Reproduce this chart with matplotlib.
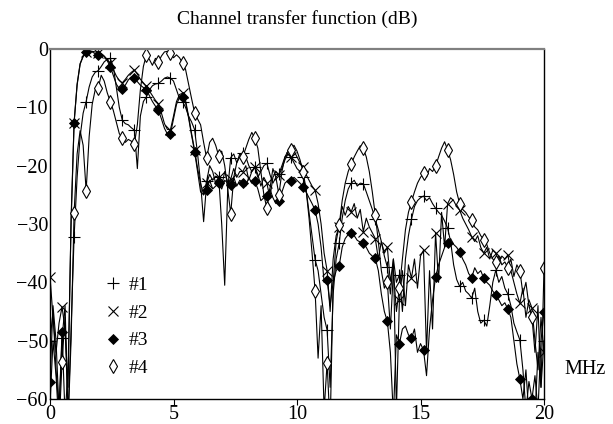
import numpy as np
import matplotlib
matplotlib.use("Agg")
import matplotlib.pyplot as plt
from matplotlib.lines import Line2D

plt.rcParams['font.family'] = ['Liberation Serif', 'DejaVu Serif']

# frequency grid (MHz): 165 samples over 0-20 MHz, markers every 4th sample
freq = np.linspace(0, 20, 165)

s1 = [-50, -45, -55, -62,  -49.6, -44, -63, -48,  -32.2, -22, -15, -11,  -9.0, -6.5, -4.8, -4.0,
      -3.7, -3.0, -2.2, -1.8,  -1.6, -3.0, -6.5, -10.0,  -12.2, -12.8, -13.0, -13.5,  -13.9, -20.5, -11.5, -9.0,
      -8.2, -7.0, -6.3, -6.0,  -5.9, -5.5, -5.0, -4.8,  -5.0, -5.5, -7.0, -8.5,  -9.0, -10.0, -11.5, -12.5,
      -13.8, -18.0, -23.0, -25.0,  -22.7, -20.0, -21.0, -23.0,  -21.9, -30.0, -40.5, -24.0,  -18.6, -18.0, -19.5, -18.5,
      -17.8, -18.5, -20.0, -21.0,  -20.2, -22.0, -21.0, -20.0,  -19.6, -21.5, -23.0, -22.0,  -21.4, -20.0, -18.5, -18.0,
      -18.5, -19.5, -20.5, -21.0,  -21.9, -24.0, -28.0, -32.0,  -36.1, -38.0, -42.0, -46.0,  -48.2, -58.0, -42.0, -36.0,
      -33.3, -29.0, -26.0, -24.0,  -23.0, -22.5, -23.5, -23.0,  -23.1, -24.5, -26.0, -27.5,  -29.2, -31.0, -33.0, -35.5,
      -37.4, -42.0, -36.0, -40.0,  -38.7, -45.0, -36.0, -32.0,  -29.2, -27.0, -26.0, -25.5,  -25.2, -26.0, -25.5, -26.5,
      -27.3, -28.0, -28.5, -29.5,  -30.7, -33.0, -37.0, -39.5,  -40.7, -40.0, -41.5, -42.0,  -42.7, -41.0, -45.0, -47.0,
      -46.5, -47.5, -44.0, -40.0,  -37.9, -40.0, -39.0, -41.0,  -42.0, -44.0, -47.0, -48.5,  -49.9, -55.0, -62.0, -57.0,
      -60.0, -63.0, -52.0, -58.0,  -50.0]

s2 = [-39.0, -46.0, -52.0, -47.0,  -44.2, -48.0, -58.0, -29.0,  -12.6, -6.2, -2.6, -1.3,  -0.5, -0.3, -0.4, -0.5,
      -0.6, -0.8, -1.2, -1.8,  -2.4, -3.5, -4.6, -5.4,  -5.8, -5.2, -4.5, -4.0,  -3.6, -4.3, -5.2, -5.8,
      -6.4, -7.2, -8.0, -8.8,  -9.4, -11.0, -12.8, -13.8,  -13.8, -11.5, -9.0, -7.8,  -7.6, -8.8, -11.5, -14.5,
      -17.3, -20.5, -23.0, -29.6,  -23.0, -21.5, -22.5, -21.8,  -22.0, -23.5, -21.0, -22.8,  -22.3, -20.5, -22.0, -21.0,
      -21.0, -20.0, -22.5, -21.0,  -20.2, -21.5, -23.5, -22.0,  -23.0, -25.5, -22.0, -21.0,  -21.6, -20.5, -19.0, -18.0,
      -18.5, -17.5, -18.5, -19.5,  -20.2, -21.5, -22.5, -23.5,  -24.2, -26.5, -30.0, -35.0,  -38.0, -45.0, -36.0, -32.0,
      -30.5, -27.0, -28.5, -27.0,  -27.9, -26.5, -29.0, -27.5,  -31.3, -29.0, -30.5, -31.5,  -32.5, -36.0, -33.0, -35.0,
      -34.0, -40.0, -36.0, -62.0,  -43.0, -38.0, -44.0, -37.0,  -39.3, -36.0, -41.0, -35.5,  -34.5, -52.0, -38.0, -48.0,
      -31.5, -40.0, -28.0, -34.0,  -26.5, -25.5, -26.0, -27.0,  -27.6, -29.0, -30.0, -31.0,  -32.2, -33.0, -32.0, -34.0,
      -35.0, -34.0, -36.0, -34.5,  -35.0, -36.5, -35.5, -36.0,  -35.3, -38.0, -40.0, -42.0,  -43.6, -41.0, -46.0, -43.0,
      -44.4, -50.0, -55.0, -46.0,  -52.0]

s3 = [-57.0, -44.0, -50.0, -62.0,  -48.5, -63.0, -55.0, -30.0,  -12.6, -6.0, -2.5, -1.2,  -0.5, -0.3, -0.5, -0.8,
      -1.0, -0.9, -1.3, -2.0,  -3.0, -4.5, -6.0, -6.8,  -6.9, -6.2, -5.3, -4.8,  -4.9, -5.6, -6.2, -6.6,
      -7.0, -8.0, -9.0, -9.8,  -10.5, -12.0, -13.6, -14.6,  -14.5, -12.0, -9.5, -8.3,  -8.2, -9.2, -11.8, -14.8,
      -17.6, -21.0, -24.5, -25.0,  -24.2, -22.5, -24.0, -23.5,  -23.0, -24.0, -22.5, -23.0,  -23.4, -22.0, -23.5, -22.5,
      -22.9, -23.5, -22.0, -23.0,  -22.7, -24.0, -26.0, -25.5,  -25.2, -24.0, -25.5, -26.5,  -26.0, -24.5, -23.0, -22.5,
      -22.7, -22.0, -22.5, -23.0,  -23.6, -24.5, -25.5, -26.5,  -27.6, -30.0, -34.0, -40.0,  -39.6, -44.0, -40.0, -38.0,
      -37.2, -34.0, -32.5, -31.8,  -31.6, -32.0, -32.8, -33.1,  -33.3, -34.0, -35.0, -35.5,  -35.9, -38.0, -42.0, -45.0,
      -46.7, -52.0, -63.0, -49.0,  -50.5, -48.0, -47.5, -49.0,  -49.6, -48.0, -52.0, -50.5,  -51.6, -56.0, -48.0, -43.0,
      -39.1, -37.0, -35.5, -34.0,  -33.3, -32.5, -33.5, -34.0,  -34.8, -36.0, -37.0, -38.5,  -39.2, -37.5, -38.5, -38.0,
      -39.3, -40.0, -40.5, -41.5,  -42.2, -43.0, -44.0, -43.5,  -44.6, -46.0, -50.0, -54.0,  -56.6, -60.0, -55.0, -63.0,
      -60.0, -56.0, -62.0, -50.0,  -45.0]

s4 = [-61.0, -50.0, -56.0, -65.0,  -53.6, -46.0, -64.0, -50.0,  -28.1, -18.0, -14.0, -16.5,  -24.3, -15.0, -9.5, -7.0,
      -6.7, -4.5, -5.5, -7.5,  -9.0, -10.5, -12.5, -14.5,  -15.3, -16.0, -15.5, -15.8,  -16.3, -13.0, -7.0, -3.0,
      -1.0, -1.8, -2.8, -1.6,  -2.2, -1.2, -0.5, -0.4,  -0.7, -1.5, -1.0, -1.5,  -2.4, -3.5, -6.0, -8.5,
      -10.9, -12.0, -13.0, -16.0,  -18.7, -16.0, -15.3, -16.5,  -18.3, -17.5, -20.0, -24.0,  -28.2, -22.0, -19.5, -18.0,
      -18.5, -17.0, -15.5, -14.3,  -15.3, -17.0, -21.0, -25.0,  -27.3, -24.0, -20.5, -22.0,  -25.0, -21.0, -18.5, -17.5,
      -17.3, -16.5, -17.5, -19.0,  -21.0, -24.0, -29.0, -35.0,  -41.4, -53.0, -44.0, -62.0,  -53.8, -65.0, -40.0, -33.0,
      -30.2, -26.0, -23.0, -21.0,  -19.7, -18.5, -17.5, -16.6,  -17.0, -18.5, -21.0, -24.5,  -28.5, -33.0, -38.0, -41.0,
      -40.0, -48.0, -38.0, -45.0,  -41.0, -36.0, -31.0, -28.0,  -26.2, -24.5, -23.0, -22.0,  -21.3, -22.0, -20.5, -21.0,
      -20.1, -18.5, -17.0, -15.9,  -17.3, -19.0, -21.5, -24.5,  -26.5, -27.5, -28.0, -28.8,  -29.3, -30.5, -31.0, -32.0,
      -32.7, -33.5, -35.0, -36.0,  -36.5, -35.5, -37.0, -36.5,  -37.5, -36.0, -39.0, -37.0,  -38.0, -42.0, -40.0, -44.0,
      -46.0, -52.0, -44.0, -58.0,  -37.6]

labels = ['#1', '#2', '#3', '#4']
series = [s1, s2, s3, s4]
x_ticks = [0, 5, 10, 15, 20]
y_ticks = [0, -10, -20, -30, -40, -50, -60]

styles = [
    dict(marker='+', ms=8, mfc='k', mew=0.8),
    dict(marker='x', ms=6.5, mfc='k', mew=0.8),
    dict(marker='D', ms=5.3, mfc='k', mew=0.6),
    dict(marker='d', ms=7.5, mfc='white', mew=0.8),
]

fig = plt.figure(figsize=(6.13, 4.24), dpi=100)
ax = fig.add_axes([50/613, 1-399/424, 494/613, 350/424])

for s, st, lab in zip(series, styles, labels):
    ax.plot(freq, s, color='k', lw=0.8, markevery=4, mec='k', label=lab, **st)

ax.set_xlim(0, 20)
ax.set_ylim(-60, 0)
ax.set_xticks(x_ticks)
ax.set_yticks(y_ticks)
ax.tick_params(axis='y', length=0, pad=1.5, labelsize=14.5)
ax.tick_params(axis='x', length=4, direction='out', pad=0.5, labelsize=14.5, width=0.8)
for side in ['left', 'bottom', 'right']:
    ax.spines[side].set_color('k')
    ax.spines[side].set_linewidth(1.0)
ax.spines['top'].set_color('#808080')
ax.spines['top'].set_linewidth(1.6)

handles = [Line2D([], [], ls='none', color='k', mec='k', **st) for st in styles]
ax.legend(handles, labels, loc='upper left', bbox_to_anchor=(0.088, 0.378), frameon=False,
          fontsize=14, handlelength=1.0, handletextpad=0.3, labelspacing=0.52, borderpad=0)

fig.text(297/613, 1-19/424, 'Channel transfer function (dB)', ha='center', va='center', fontsize=14)
fig.text(585/613, 1-369/424, 'MHz', ha='center', va='center', fontsize=14.5)

fig.savefig('out.png', dpi=100)
